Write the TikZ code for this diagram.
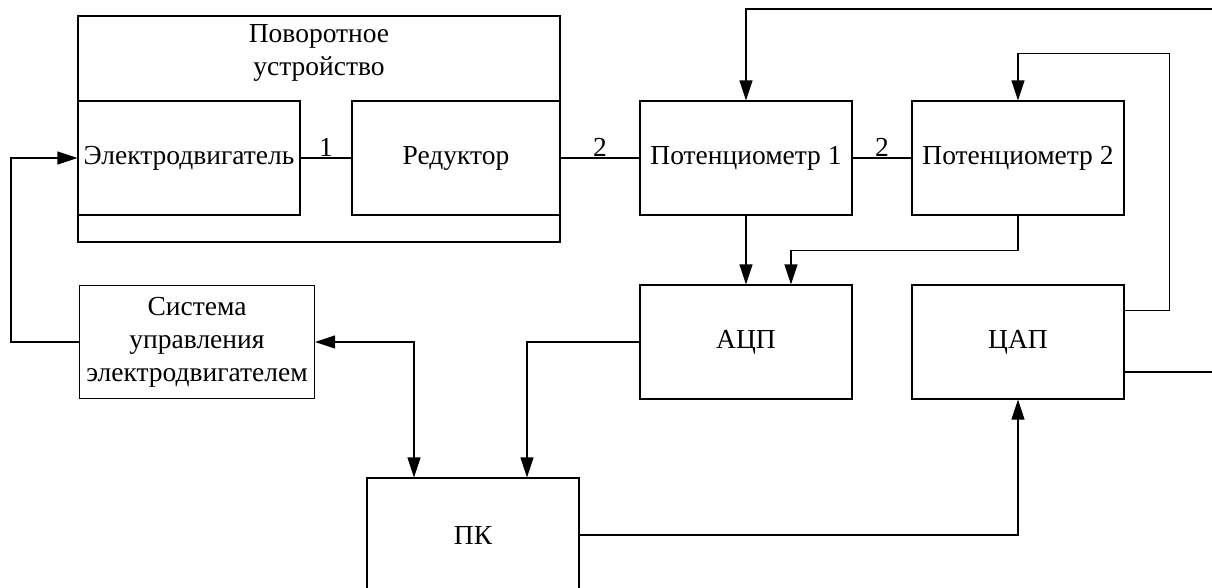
\documentclass[tikz,border=0pt]{standalone}
\usepackage{fontspec}
\setmainfont{Liberation Serif}
\usetikzlibrary{positioning,arrows.meta}

\begin{document}
\begin{tikzpicture}[x=1pt,y=-1pt,box/.style={draw,line width=1.1pt,minimum height=114pt,inner sep=0pt,align=center,font=\fontsize{27.5}{33}\selectfont},arr/.style={-{Triangle[width=13pt,length=20pt]},line width=1.1pt},wire/.style={line width=1.1pt},num/.style={font=\fontsize{27.5}{30}\selectfont,inner sep=1pt}]
\path[use as bounding box,clip] (0,0) rectangle (1212,587);
\node[draw,line width=2pt,minimum width=482pt,minimum height=226pt] (turn) at (319,129) {};
\node[align=center,font=\fontsize{27.5}{33}\selectfont] (turntitle) at (319,53) {Поворотное\\устройство};
\node[box,minimum width=222pt] (motor) at (189,158) {Электродвигатель};
\node[box,minimum width=208pt] (gear) at (456,158) {Редуктор};
\node[box,minimum width=212pt] (pot1) at (746,158) {Потенциометр 1};
\node[box,minimum width=212pt] (pot2) at (1018,158) {Потенциометр 2};
\node[box,minimum width=212pt] (adc) at (746,342) {АЦП};
\node[box,minimum width=212pt] (dac) at (1018,342) {ЦАП};
\node[box,minimum width=235pt,minimum height=113pt] (ctrl) at (197,342) {Система\\управления\\электродвигателем};
\node[box,minimum width=212pt] (pc) at (473,535) {ПК};
\coordinate (edgeA) at (1212,9);
\coordinate (edgeB) at (1212,372);
\draw[wire] (motor.east) -- node[num,above]{1} (gear.west);
\draw[wire] (gear.east) -- node[num,above]{2} (pot1.west);
\draw[wire] (pot1.east) -- node[num,above]{2} (pot2.west);
\draw[arr] (edgeA) -| (pot1.north);
\draw[arr] ([yshift=-26pt]dac.north east) -| ++(45,-257) -| (pot2.north);
\draw[arr] (pot1.south) -- (adc.north);
\draw[arr] (pot2.south) -- ++(0,35) -| ([xshift=45pt]adc.north);
\draw[wire] (dac.east |- edgeB) -- (edgeB);
\draw[arr] (adc.west) -| ([xshift=54pt]pc.north);
\draw[{Triangle[width=13pt,length=20pt]}-{Triangle[width=13pt,length=20pt]},line width=1.1pt] (ctrl.east) -| ([xshift=-59pt]pc.north);
\draw[arr] (ctrl.west) -- ++(-68,0) |- (motor.west);
\draw[arr] (pc.east) -| (dac.south);
\end{tikzpicture}
\end{document}
